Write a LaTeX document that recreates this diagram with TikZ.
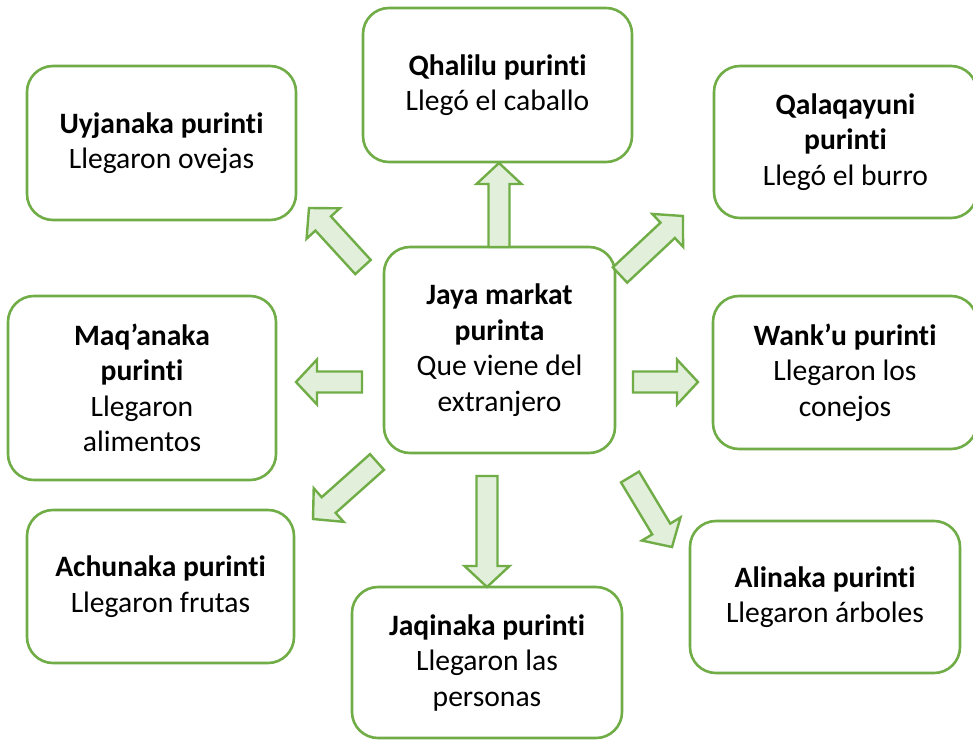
\documentclass[tikz,border=0pt]{standalone}
\usepackage{fontspec}
\setmainfont{Carlito}[Ligatures=NoCommon]
\usetikzlibrary{calc}

\definecolor{boxgreen}{RGB}{112,173,71}
\definecolor{arrowfill}{RGB}{226,239,218}

\tikzset{
  card/.style={draw=boxgreen, line width=2.6pt, rounded corners=26pt, fill=white,
    align=center, inner sep=0pt, font=\fontsize{29.6}{35.5}\selectfont},
  fatarr/.style={draw=boxgreen, fill=arrowfill, line width=2.4pt, line join=miter},
}

% block arrow from coordinate #1 (tail) to coordinate #2 (tip)
\newcommand{\fatarrow}[2]{%
  \coordinate (#1h) at ($(#2)!21pt!(#1)$);
  \draw[fatarr] ($(#1)!10.5pt!90:(#2)$) -- ($(#1h)!10.5pt!90:(#2)$)
    -- ($(#1h)!22.5pt!90:(#2)$) -- (#2) -- ($(#1h)!22.5pt!-90:(#2)$)
    -- ($(#1h)!10.5pt!-90:(#2)$) -- ($(#1)!10.5pt!-90:(#2)$) -- cycle;}

\begin{document}
\begin{tikzpicture}[x=1pt, y=-1pt]
  \path[use as bounding box, fill=white] (0,0) rectangle (973,741);

  % boxes
  \node[card, minimum width=231, minimum height=206] (jaya) at (499.5,350)
    {\textbf{Jaya markat}\\\textbf{purinta}\\Que viene del\\extranjero};
  \node[card, minimum width=269, minimum height=154] (qhalilu) at (497.5,85)
    {\textbf{Qhalilu purinti}\\Llegó el caballo};
  \node[card, minimum width=269, minimum height=154] (uyjanaka) at (161.5,143)
    {\textbf{Uyjanaka purinti}\\Llegaron ovejas};
  \node[card, minimum width=263, minimum height=152] (qalaqayuni) at (845.5,142)
    {\textbf{Qalaqayuni}\\\textbf{purinti}\\Llegó el burro};
  \node[card, minimum width=268, minimum height=184] (maqanaka) at (142,388)
    {\textbf{Maq’anaka}\\\textbf{purinti}\\Llegaron\\alimentos};
  \node[card, minimum width=264, minimum height=153] (wanku) at (845,372.5)
    {\textbf{Wank’u purinti}\\Llegaron los\\conejos};
  \node[card, minimum width=267, minimum height=153] (achunaka) at (160.5,586.5)
    {\textbf{Achunaka purinti}\\Llegaron frutas};
  \node[card, minimum width=270, minimum height=151] (jaqinaka) at (487,662.5)
    {\textbf{Jaqinaka purinti}\\Llegaron las\\personas};
  \node[card, minimum width=270, minimum height=152] (alinaka) at (825,597)
    {\textbf{Alinaka purinti}\\Llegaron árboles};

  % arrow ends
  \coordinate (qhaS) at (499,247);   \coordinate (qhaE) at (499,163);
  \coordinate (jaqS) at (487,476);   \coordinate (jaqE) at (487,587);
  \coordinate (maqS) at (362,382);   \coordinate (maqE) at (296,382);
  \coordinate (wanS) at (633,382);   \coordinate (wanE) at (698,382);
  \coordinate (qalS) at (620,275);   \coordinate (qalE) at (683,216);
  \coordinate (uyjS) at (363,267);   \coordinate (uyjE) at (309,208);
  \coordinate (achS) at (377,462);   \coordinate (achE) at (313,519);
  \coordinate (aliS) at (630,477);   \coordinate (aliE) at (672,547);

  \fatarrow{qhaS}{qhaE}
  \fatarrow{jaqS}{jaqE}
  \fatarrow{maqS}{maqE}
  \fatarrow{wanS}{wanE}
  \fatarrow{qalS}{qalE}
  \fatarrow{uyjS}{uyjE}
  \fatarrow{achS}{achE}
  \fatarrow{aliS}{aliE}
\end{tikzpicture}
\end{document}
